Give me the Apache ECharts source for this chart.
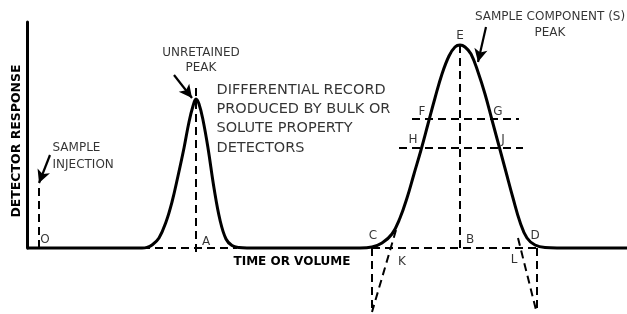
<!DOCTYPE html>
<html>
<head>
<meta charset="utf-8">
<script src="https://cdn.jsdelivr.net/npm/echarts@6/dist/echarts.min.js"></script>
<style>html,body{margin:0;background:#fff}#chart{width:627px;height:314px}</style>
</head>
<body>
<div id="chart"></div>
<script>
// axes
var axisNames = ['TIME OR VOLUME', 'DETECTOR RESPONSE'];
var timeRange = [0, 60];
var responseRange = [0, 113];

// detector trace [time, response]
var detectorRecord = [
	[0,0],[11.5,0],[12.0,0.3],[12.5,1.5],[13.2,5],[13.9,13],[14.5,23],[15.1,36],[15.7,50],[16.2,63],[16.6,71],
	[16.9,74.5],[17.2,72],[17.6,64],[18.1,50],[18.7,30],[19.3,14],[19.9,4.5],[20.5,1.2],[21.2,0.2],[22.0,0],
	[33.3,0],[34.5,0.5],[35.5,2.5],[36.5,7],[37.3,15],[38.0,25],[38.7,37],[39.4,49],[40.1,62],[40.8,75],
	[41.5,87],[42.2,96],[42.8,100.5],[43.3,101.5],[43.8,100.5],[44.4,97],[45.1,88],[45.8,77],[46.5,64],
	[47.2,51],[47.9,38],[48.6,25],[49.3,13],[50.0,5],[50.8,1.5],[51.8,0.2],[53.0,0],[60,0]
];

// dashed construction lines
var injectionLine = [[1.2,0],[1.2,32.5]];
var lineA = [[16.9,-2],[16.9,82]];
var baseA = [[11.5,0],[21,0]];
var baseCD = [[34.5,0],[51.1,0]];
var lineEB = [[43.3,0],[43.3,101.5]];
var lineFG = [[38.5,64.5],[49.2,64.5]];
var lineHJ = [[37.2,50],[49.6,50]];
var dropC = [[34.5,0],[34.5,-32.5]];
var dropD = [[51.0,0],[51.0,-32]];
var tangentK = [[36.9,9],[34.5,-32]];
var tangentL = [[49.1,5],[50.9,-31]];

// point letters
var pointNames = ['O','A','B','C','D','E','F','G','H','J','K','L'];
var pointAt = [[1.8,4],[17.9,3],[44.3,4],[34.6,6],[50.8,6],[43.3,106],[39.5,68],[47.1,68],[38.6,54],[47.6,54],[37.5,-7],[48.7,-6]];

// notes
var noteTexts = ['SAMPLE\nINJECTION', 'UNRETAINED\nPEAK', 'DIFFERENTIAL RECORD\nPRODUCED BY BULK OR\nSOLUTE PROPERTY\nDETECTORS', 'SAMPLE COMPONENT (S)\nPEAK'];
var noteAt = [[2.5,45.75],[17.4,93.75],[18.9,64.5],[52.3,111.5]];

// arrows [from, to]
var arrowFrom = [[2.3,46.5],[14.7,86.5],[45.9,110.5]];
var arrowTo = [[1.2,32.5],[16.5,75],[45.1,93]];

var font = 'DejaVu Sans';
var ink = '#000';

function dashed(data){
	return {
		type:'line',
		data:data,
		symbol:'none',
		clip:false,
		silent:true,
		z:1,
		lineStyle:{color:ink,width:2,type:[8,5]}
	};
}

var series = [];
var dashedLines = [injectionLine,lineA,baseA,baseCD,lineEB,lineFG,lineHJ,dropC,dropD,tangentK,tangentL];
for (var i = 0; i < dashedLines.length; i++) {
	series.push(dashed(dashedLines[i]));
}

var arrows = [];
for (var i = 0; i < arrowFrom.length; i++) {
	arrows.push([{coord:arrowFrom[i]},{coord:arrowTo[i]}]);
}

series.push({
	type:'line',
	data:detectorRecord,
	symbol:'none',
	smooth:0.4,
	clip:false,
	z:3,
	lineStyle:{color:'#000',width:3},
	markLine:{
		silent:true,
		symbol:['none','arrow'],
		symbolSize:[10,13],
		label:{show:false},
		lineStyle:{color:'#000',width:2.2,type:'solid'},
		data:arrows
	}
});

var letters = [];
for (var i = 0; i < pointNames.length; i++) {
	letters.push({name:pointNames[i],value:pointAt[i]});
}
series.push({
	type:'scatter',
	data:letters,
	symbolSize:1,
	silent:true,
	clip:false,
	itemStyle:{color:'rgba(0,0,0,0)'},
	label:{show:true,position:'inside',formatter:'{b}',color:ink,fontFamily:font,fontSize:12}
});

var notes = [
	{name:noteTexts[0],value:noteAt[0],label:{position:'right',distance:0,align:'left',fontSize:12,lineHeight:17}},
	{name:noteTexts[1],value:noteAt[1],label:{position:'inside',align:'center',fontSize:12,lineHeight:15}},
	{name:noteTexts[2],value:noteAt[2],label:{position:'right',distance:0,align:'left',fontSize:14.5,lineHeight:19.3}},
	{name:noteTexts[3],value:noteAt[3],label:{position:'inside',align:'center',fontSize:12,lineHeight:16}}
];
series.push({
	type:'scatter',
	data:notes,
	symbolSize:1,
	silent:true,
	clip:false,
	itemStyle:{color:'rgba(0,0,0,0)'},
	label:{show:true,formatter:'{b}',color:ink,fontFamily:font}
});

var option = {
	animation:false,
	backgroundColor:'#fff',
	grid:{left:27,right:0,top:22,bottom:66},
	xAxis:{
		type:'value',
		min:timeRange[0],
		max:timeRange[1],
		name:axisNames[0],
		nameLocation:'middle',
		nameGap:8,
		nameTextStyle:{fontFamily:font,fontWeight:'bold',fontSize:12,color:ink,padding:[0,70,0,0],verticalAlign:'top'},
		axisLine:{show:false},
		axisTick:{show:false},
		axisLabel:{show:false},
		splitLine:{show:false}
	},
	yAxis:{
		type:'value',
		min:responseRange[0],
		max:responseRange[1],
		name:axisNames[1],
		nameLocation:'middle',
		nameGap:4,
		nameRotate:90,
		nameTextStyle:{fontFamily:font,fontWeight:'bold',fontSize:12.5,color:ink,padding:[0,12,0,0]},
		axisLine:{show:true,lineStyle:{color:'#000',width:3}},
		axisTick:{show:false},
		axisLabel:{show:false},
		splitLine:{show:false}
	},
	series:series
};

var chart = echarts.init(document.getElementById('chart'));
chart.setOption(option);
</script>
</body>
</html>
